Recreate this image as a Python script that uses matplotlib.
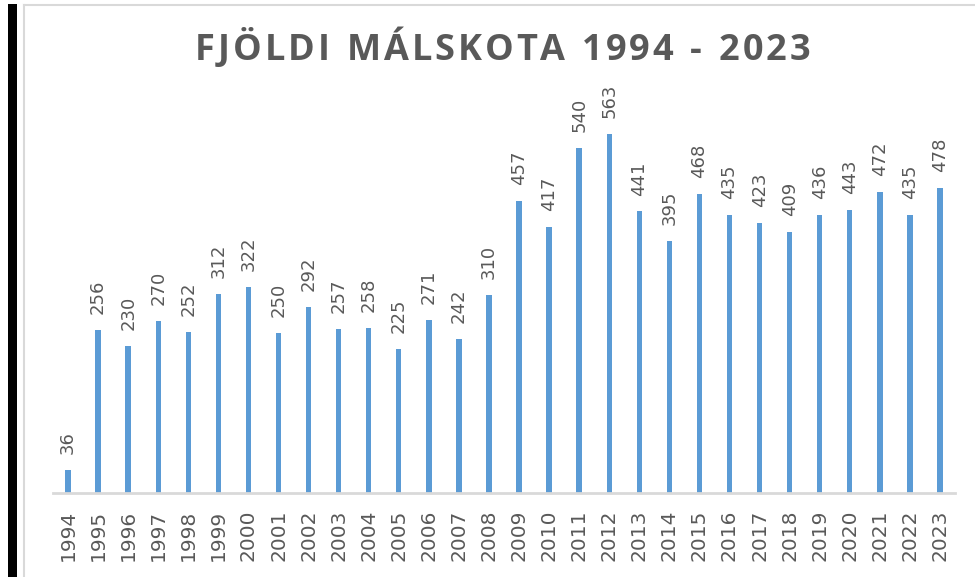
import matplotlib.pyplot as plt
from matplotlib.lines import Line2D
from matplotlib.patches import Rectangle

# data
years = [str(y) for y in range(1994, 2024)]
counts = [36, 256, 230, 270, 252, 312, 322, 250, 292, 257, 258, 225, 271, 242, 310,
          457, 417, 540, 563, 441, 395, 468, 435, 423, 409, 436, 443, 472, 435, 478]
title = 'FJÖLDI MÁLSKOTA 1994 - 2023'

bar_col = '#5b9bd5'
txt_col = '#595959'
grid_col = '#d9d9d9'

fig = plt.figure(figsize=(9.75, 5.77), dpi=100)
ax = fig.add_axes([53/975, 84/577, 902/975, 413/577])

x = list(range(len(years)))
ax.bar(x, counts, width=0.18, color=bar_col, zorder=2)

for xi, v in zip(x, counts):
    ax.annotate(str(v), (xi, v), xytext=(0, 11.5), textcoords='offset points',
                rotation=90, ha='center', va='bottom', color=txt_col,
                fontsize=13, family='DejaVu Sans')

ax.set_xlim(-0.5, len(years) - 0.5)
ax.set_ylim(0, 647)
ax.set_xticks(x)
ax.set_xticklabels(years, rotation=90, fontsize=14.5, color=txt_col)
ax.tick_params(axis='x', length=0, pad=12)
ax.set_yticks([])
for s in ['top', 'right', 'left']:
    ax.spines[s].set_visible(False)
ax.spines['bottom'].set_color(grid_col)
ax.spines['bottom'].set_linewidth(2)

# title, letter-spaced: place char by char between x0 and x1 (pixels)
x0, x1, ty = 195, 810, 577 - 51
renderer = fig.canvas.get_renderer()
props = dict(fontsize=26, fontweight='bold', color=txt_col, family='Open Sans',
             va='center', ha='left')
widths = []
for ch in title:
    t = fig.text(0, 0, ch, **props)
    w = t.get_window_extent(renderer).width if ch != ' ' else 0
    if ch == ' ':
        t.set_text('a')
        w = t.get_window_extent(renderer).width * 0.5
    widths.append(w)
    t.remove()
gap = (x1 - x0 - sum(widths)) / (len(title) - 1)
cx = x0
for ch, w in zip(title, widths):
    if ch != ' ':
        fig.text(cx / 975, ty / 577, ch, **props)
    cx += w + gap

# frame and black side bar
fig.add_artist(Rectangle((8/975, 0), 9/975, 1 - 4/577, transform=fig.transFigure,
                         color='black', lw=0))
fig.add_artist(Line2D([24/975, 24/975], [0, 1 - 5/577], transform=fig.transFigure,
                      color=grid_col, lw=1.5))
fig.add_artist(Line2D([24/975, 1], [1 - 5/577, 1 - 5/577], transform=fig.transFigure,
                      color=grid_col, lw=1.5))

plt.savefig('out.png', dpi=100)
